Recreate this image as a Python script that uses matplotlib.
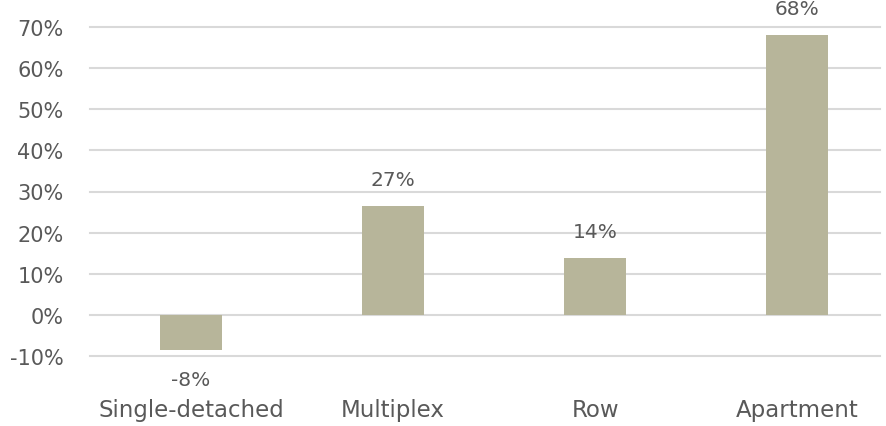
import matplotlib.pyplot as plt
from matplotlib.ticker import FuncFormatter

categorias = ['Single-detached', 'Multiplex', 'Row', 'Apartment']
valores = [-8.6, 26.5, 13.8, 68.0]
rotulos = ['-8%', '27%', '14%', '68%']
ticks_y = [-10, 0, 10, 20, 30, 40, 50, 60, 70]

cor_barra = '#B7B59A'
cor_texto = '#595959'

plt.rcParams['font.family'] = ['DejaVu Sans']

fig = plt.figure(figsize=(8.86, 4.27), dpi=100)
ax = fig.add_axes([90 / 886, 70 / 427, 790 / 886, 329 / 427])

x = range(len(categorias))
barras = ax.bar(x, valores, width=0.31, color=cor_barra, zorder=3)

for b, v, r in zip(barras, valores, rotulos):
    cx = b.get_x() + b.get_width() / 2
    if v >= 0:
        ax.annotate(r, (cx, v), xytext=(0, 19), textcoords='offset points',
                    ha='center', va='center', fontsize=14.5, color=cor_texto)
    else:
        ax.annotate(r, (cx, v), xytext=(0, -21), textcoords='offset points',
                    ha='center', va='center', fontsize=14.5, color=cor_texto)

ax.set_xlim(-0.5, 3.41)
ax.set_ylim(-10, 70)
ax.set_yticks(ticks_y)
ax.yaxis.set_major_formatter(FuncFormatter(lambda v, p: f'{v:.0f}%'))
ax.set_xticks(list(x))
ax.set_xticklabels(categorias)

ax.grid(axis='y', color='#D9D9D9', linewidth=1.5, zorder=0)
for linha in ax.get_ygridlines():
    linha.set_clip_on(False)
for s in ax.spines.values():
    s.set_visible(False)
ax.tick_params(axis='y', length=0, pad=19, labelsize=15, labelcolor=cor_texto)
ax.tick_params(axis='x', length=0, pad=30, labelsize=16.5, labelcolor=cor_texto)

fig.savefig('out.png', dpi=100)
